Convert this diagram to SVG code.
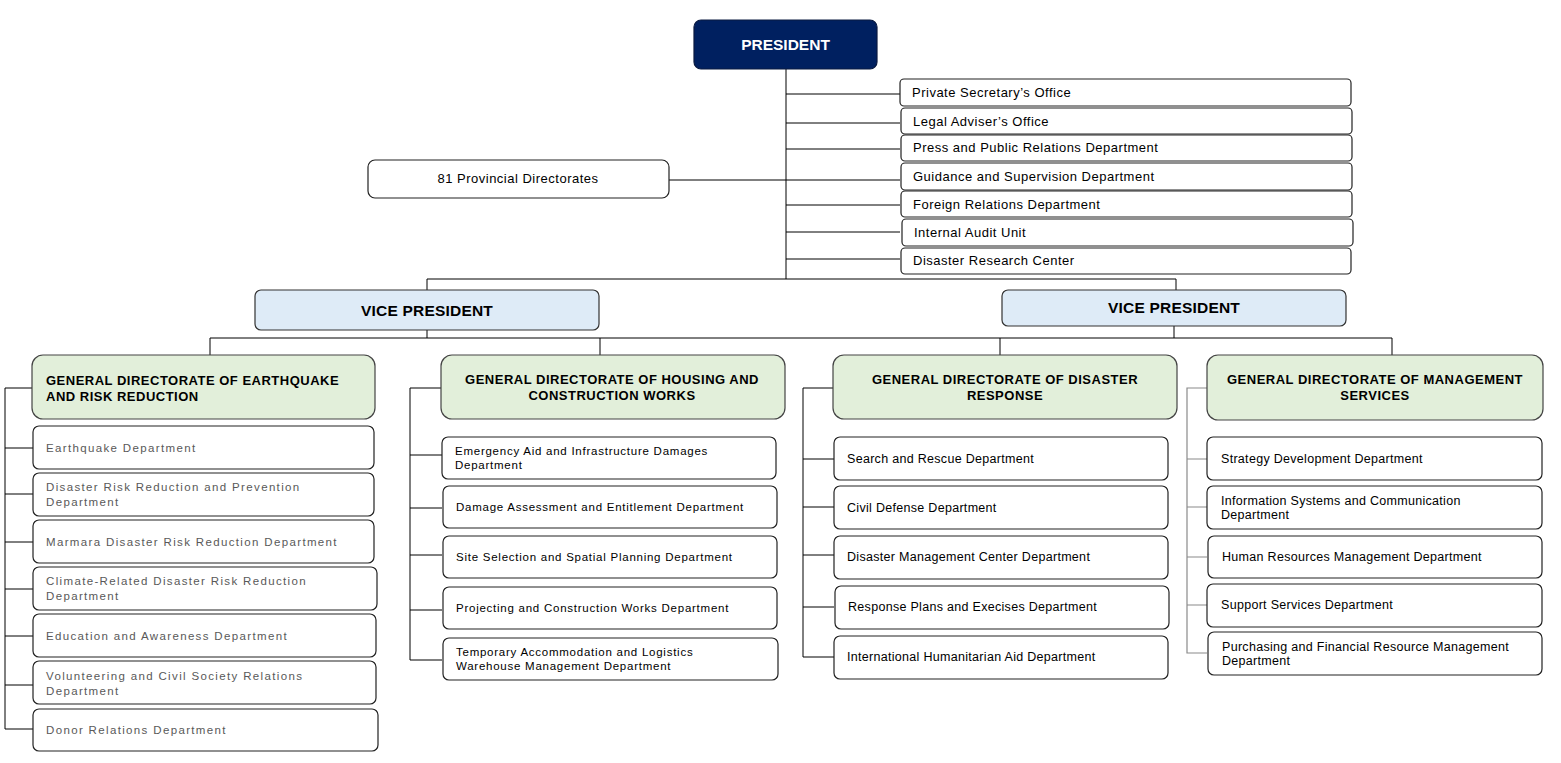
<svg xmlns="http://www.w3.org/2000/svg" width="1561" height="763" viewBox="0 0 1561 763">
<style>
text{font-family:"Liberation Sans",Arial,sans-serif;fill:#000}
.box{fill:#fff;stroke:#222;stroke-width:1.2}
.pres{fill:#002060;stroke:#0a1a40;stroke-width:1.2}
.vp{fill:#DEEBF7;stroke:#333;stroke-width:1.2}
.gd{fill:#E2EFDA;stroke:#444;stroke-width:1.2}
.t{font-size:13px;letter-spacing:0.5px}
.pt{font-size:15.5px;font-weight:bold;fill:#fff}
.vt{font-size:15.5px;font-weight:bold;letter-spacing:0.2px}
.gt{font-size:13px;font-weight:bold;letter-spacing:0.5px}
.s1{font-size:11.5px;fill:#595959;letter-spacing:1.35px}
.s2{font-size:11.5px;letter-spacing:0.75px}
.s3{font-size:12.5px;letter-spacing:0.3px}
.s4{font-size:12.5px;letter-spacing:0.3px}
.c{fill:none;stroke:#000;stroke-width:1}
.cg{fill:none;stroke:#8a8a8a;stroke-width:1.2}
</style>
<g id="connectors">
<path class="c" d="M786 69V279M786 94H900M786 123H900M786 149H900M669 180H900M786 205H900M786 232H900M786 259H900"/>
<path class="c" d="M427 290V279H1176V290"/>
<path class="c" d="M427 330V338M1174 326V338M210 355V338H1392V355M600 338V355M1000 338V355"/>
<path class="c" d="M32 388H5V729H33M5 448H33M5 494H33M5 542H33M5 589H33M5 636H33M5 685H33"/>
<path class="c" d="M441 388H410V660H442M410 455H442M410 508H442M410 555H442M410 610H442"/>
<path class="c" d="M833 388H803V657H834M803 459H834M803 507H834M803 555H834M803 607H834"/>
<path class="cg" d="M1207 388H1187V653H1207M1187 459H1207M1187 507H1207M1187 557H1207M1187 605H1207"/>
</g>
<g id="president"><rect class="pres" x="694" y="20" width="183" height="49" rx="7"/><text class="pt" x="785.5" y="50" text-anchor="middle">PRESIDENT</text></g>
<g id="private-secretary"><rect class="box" x="900" y="79" width="451" height="27" rx="4"/><text class="t" x="912" y="97">Private Secretary’s Office</text></g>
<g id="legal-adviser"><rect class="box" x="901" y="108" width="451" height="26" rx="4"/><text class="t" x="913" y="126">Legal Adviser’s Office</text></g>
<g id="press"><rect class="box" x="901" y="135" width="451" height="26" rx="4"/><text class="t" x="913" y="152">Press and Public Relations Department</text></g>
<g id="guidance"><rect class="box" x="901" y="163" width="451" height="27" rx="4"/><text class="t" x="913" y="181">Guidance and Supervision Department</text></g>
<g id="foreign"><rect class="box" x="901" y="191" width="451" height="26" rx="4"/><text class="t" x="913" y="209">Foreign Relations Department</text></g>
<g id="audit"><rect class="box" x="902" y="219" width="451" height="27" rx="4"/><text class="t" x="914" y="237">Internal Audit Unit</text></g>
<g id="research"><rect class="box" x="901" y="248" width="450" height="26" rx="4"/><text class="t" x="913" y="265">Disaster Research Center</text></g>
<g id="provincial"><rect class="box" x="368" y="160" width="301" height="38" rx="7"/><text class="t" x="518" y="183" text-anchor="middle">81 Provincial Directorates</text></g>
<g id="vp1"><rect class="vp" x="255" y="290" width="344" height="40" rx="6"/><text class="vt" x="427" y="316" text-anchor="middle">VICE PRESIDENT</text></g>
<g id="vp2"><rect class="vp" x="1002" y="290" width="344" height="36" rx="6"/><text class="vt" x="1174" y="313" text-anchor="middle">VICE PRESIDENT</text></g>
<g id="gd1"><rect class="gd" x="32" y="355" width="343" height="64" rx="11"/><text class="gt" x="46" y="385">GENERAL DIRECTORATE OF EARTHQUAKE</text><text class="gt" x="46" y="401">AND RISK REDUCTION</text></g>
<g id="gd2"><rect class="gd" x="441" y="355" width="344" height="64" rx="11"/><text class="gt" x="612" y="384" text-anchor="middle">GENERAL DIRECTORATE OF HOUSING AND</text><text class="gt" x="612" y="400" text-anchor="middle">CONSTRUCTION WORKS</text></g>
<g id="gd3"><rect class="gd" x="833" y="355" width="344" height="64" rx="11"/><text class="gt" x="1005" y="384" text-anchor="middle">GENERAL DIRECTORATE OF DISASTER</text><text class="gt" x="1005" y="400" text-anchor="middle">RESPONSE</text></g>
<g id="gd4"><rect class="gd" x="1207" y="355" width="336" height="65" rx="11"/><text class="gt" x="1375" y="384" text-anchor="middle">GENERAL DIRECTORATE OF MANAGEMENT</text><text class="gt" x="1375" y="400" text-anchor="middle">SERVICES</text></g>
<g id="gd1-earthquake"><rect class="box" x="33" y="426" width="341" height="43" rx="6"/><text class="s1" x="46" y="452">Earthquake Department</text></g>
<g id="gd1-drr"><rect class="box" x="33" y="473" width="341" height="43" rx="6"/><text class="s1" x="46" y="491">Disaster Risk Reduction and Prevention</text><text class="s1" x="46" y="506">Department</text></g>
<g id="gd1-marmara"><rect class="box" x="33" y="520" width="341" height="43" rx="6"/><text class="s1" x="46" y="546">Marmara Disaster Risk Reduction Department</text></g>
<g id="gd1-climate"><rect class="box" x="33" y="567" width="344" height="43" rx="6"/><text class="s1" x="46" y="585">Climate-Related Disaster Risk Reduction</text><text class="s1" x="46" y="600">Department</text></g>
<g id="gd1-education"><rect class="box" x="33" y="614" width="343" height="43" rx="6"/><text class="s1" x="46" y="640">Education and Awareness Department</text></g>
<g id="gd1-volunteering"><rect class="box" x="33" y="661" width="343" height="43" rx="6"/><text class="s1" x="46" y="680">Volunteering and Civil Society Relations</text><text class="s1" x="46" y="695">Department</text></g>
<g id="gd1-donor"><rect class="box" x="33" y="709" width="345" height="42" rx="6"/><text class="s1" x="46" y="734">Donor Relations Department</text></g>
<g id="gd2-emergency"><rect class="box" x="442" y="437" width="334" height="42" rx="6"/><text class="s2" x="455" y="455">Emergency Aid and Infrastructure Damages</text><text class="s2" x="455" y="469">Department</text></g>
<g id="gd2-damage"><rect class="box" x="443" y="486" width="334" height="42" rx="6"/><text class="s2" x="456" y="511">Damage Assessment and Entitlement Department</text></g>
<g id="gd2-site"><rect class="box" x="443" y="536" width="334" height="42" rx="6"/><text class="s2" x="456" y="561">Site Selection and Spatial Planning Department</text></g>
<g id="gd2-projecting"><rect class="box" x="443" y="587" width="334" height="42" rx="6"/><text class="s2" x="456" y="612">Projecting and Construction Works Department</text></g>
<g id="gd2-temporary"><rect class="box" x="443" y="638" width="335" height="42" rx="6"/><text class="s2" x="456" y="656">Temporary Accommodation and Logistics</text><text class="s2" x="456" y="670">Warehouse Management Department</text></g>
<g id="gd3-search"><rect class="box" x="834" y="437" width="334" height="43" rx="6"/><text class="s3" x="847" y="463">Search and Rescue Department</text></g>
<g id="gd3-civil"><rect class="box" x="834" y="486" width="334" height="43" rx="6"/><text class="s3" x="847" y="512">Civil Defense Department</text></g>
<g id="gd3-dmc"><rect class="box" x="834" y="536" width="334" height="43" rx="6"/><text class="s3" x="847" y="561">Disaster Management Center Department</text></g>
<g id="gd3-response"><rect class="box" x="835" y="586" width="334" height="43" rx="6"/><text class="s3" x="848" y="611">Response Plans and Execises Department</text></g>
<g id="gd3-international"><rect class="box" x="834" y="636" width="334" height="43" rx="6"/><text class="s3" x="847" y="661">International Humanitarian Aid Department</text></g>
<g id="gd4-strategy"><rect class="box" x="1207" y="437" width="335" height="43" rx="6"/><text class="s4" x="1221" y="463">Strategy Development Department</text></g>
<g id="gd4-info"><rect class="box" x="1207" y="486" width="335" height="43" rx="6"/><text class="s4" x="1221" y="505">Information Systems and Communication</text><text class="s4" x="1221" y="519">Department</text></g>
<g id="gd4-hr"><rect class="box" x="1208" y="536" width="334" height="42" rx="6"/><text class="s4" x="1222" y="561">Human Resources Management Department</text></g>
<g id="gd4-support"><rect class="box" x="1207" y="584" width="335" height="43" rx="6"/><text class="s4" x="1221" y="609">Support Services Department</text></g>
<g id="gd4-purchasing"><rect class="box" x="1208" y="632" width="334" height="43" rx="6"/><text class="s4" x="1222" y="651">Purchasing and Financial Resource Management</text><text class="s4" x="1222" y="665">Department</text></g>
</svg>
